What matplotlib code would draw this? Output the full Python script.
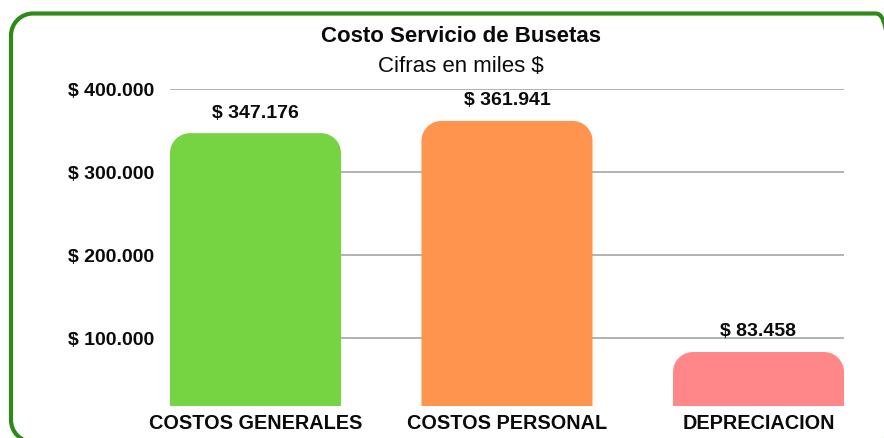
import matplotlib
matplotlib.use("Agg")
import matplotlib.pyplot as plt
from matplotlib.patches import PathPatch
from matplotlib.path import Path
from matplotlib.transforms import IdentityTransform

plt.rcParams['font.family'] = ['Liberation Sans', 'DejaVu Sans']

categories = ["COSTOS GENERALES", "COSTOS PERSONAL", "DEPRECIACION"]
values = [347176, 361941, 83458]
colors = ["#76d442", "#ff944f", "#ff878a"]
yticks = [100000, 200000, 300000, 400000]
title = "Costo Servicio de Busetas"
subtitle = "Cifras en miles $"

def fmt(v):
    return "$ " + f"{v:,}".replace(",", ".")

W, H = 884, 438
fig = plt.figure(figsize=(W / 100, H / 100), dpi=100)

def rounded_rect(x0, y0, x1, y1, r):
    k = 0.5523 * r
    verts = [(x0 + r, y0), (x1 - r, y0),
             (x1 - r + k, y0), (x1, y0 + r - k), (x1, y0 + r),
             (x1, y1 - r),
             (x1, y1 - r + k), (x1 - r + k, y1), (x1 - r, y1),
             (x0 + r, y1),
             (x0 + r - k, y1), (x0, y1 - r + k), (x0, y1 - r),
             (x0, y0 + r),
             (x0, y0 + r - k), (x0 + r - k, y0), (x0 + r, y0),
             (x0 + r, y0)]
    codes = [Path.MOVETO, Path.LINETO,
             Path.CURVE4, Path.CURVE4, Path.CURVE4,
             Path.LINETO,
             Path.CURVE4, Path.CURVE4, Path.CURVE4,
             Path.LINETO,
             Path.CURVE4, Path.CURVE4, Path.CURVE4,
             Path.LINETO,
             Path.CURVE4, Path.CURVE4, Path.CURVE4,
             Path.CLOSEPOLY]
    return Path(verts, codes)

# border in pixel coords (origin bottom-left)
border = PathPatch(rounded_rect(11, -4, 897, H - 13.5, 22),
                   transform=IdentityTransform(), fill=False,
                   edgecolor="#2e8a16", linewidth=3.0, clip_on=False)
fig.patches.append(border)

ax_l, ax_r, ax_t, ax_b = 170, 844, 89.3, 406
ax = fig.add_axes([ax_l / W, 1 - ax_b / H, (ax_r - ax_l) / W, (ax_b - ax_t) / H])
ymin = (421.3 - 406) / 83 * 100000
ax.set_xlim(-0.34, 2.34)
ax.set_ylim(ymin, 400000)

bars = ax.bar(range(len(categories)), values, width=0.68, color=colors, zorder=2)

# convert bars to rounded-top paths
px_x = (2.34 + 0.34) / (ax_r - ax_l)
px_y = (400000 - ymin) / (ax_b - ax_t)
r = 20
rx, ry = r * px_x, r * px_y
k = 0.5523
for b in bars:
    x0, y0 = b.get_x(), b.get_y()
    w, h = b.get_width(), b.get_height()
    x1, y1 = x0 + w, y0 + h
    verts = [(x0, y0), (x0, y1 - ry),
             (x0, y1 - ry + k * ry), (x0 + rx - k * rx, y1), (x0 + rx, y1),
             (x1 - rx, y1),
             (x1 - rx + k * rx, y1), (x1, y1 - ry + k * ry), (x1, y1 - ry),
             (x1, y0), (x0, y0)]
    codes = [Path.MOVETO, Path.LINETO,
             Path.CURVE4, Path.CURVE4, Path.CURVE4,
             Path.LINETO,
             Path.CURVE4, Path.CURVE4, Path.CURVE4,
             Path.LINETO, Path.CLOSEPOLY]
    pp = PathPatch(Path(verts, codes), facecolor=b.get_facecolor(),
                   edgecolor="none", zorder=2)
    ax.add_patch(pp)
    b.set_visible(False)
    ax.annotate(fmt(int(h)), (b.get_x() + w / 2, h), xytext=(0, 14.5),
                textcoords="offset points", ha="center", va="center",
                fontsize=14, fontweight="bold", color="#0a0a0a")

ax.set_yticks(yticks)
ax.set_yticklabels([fmt(v) for v in yticks], fontsize=14, fontweight="bold", color="#0a0a0a")
ax.set_xticks(range(len(categories)))
ax.set_xticklabels(categories, fontsize=14.3, fontweight="bold", color="#0a0a0a")
ax.tick_params(axis="y", length=0, pad=11.5)
ax.tick_params(axis="x", length=0, pad=6)
for s in ax.spines.values():
    s.set_visible(False)
ax.grid(axis="y", color="#a6a6a6", linewidth=1.2, zorder=0)
ax.set_axisbelow(True)

fig.text(461 / W, 1 - 37 / H, title, ha="center", va="center",
         fontsize=16, fontweight="bold", color="#0a0a0a")
fig.text(461 / W, 1 - 66 / H, subtitle, ha="center", va="center",
         fontsize=16, color="#0a0a0a")

fig.savefig("out.png", dpi=100)
